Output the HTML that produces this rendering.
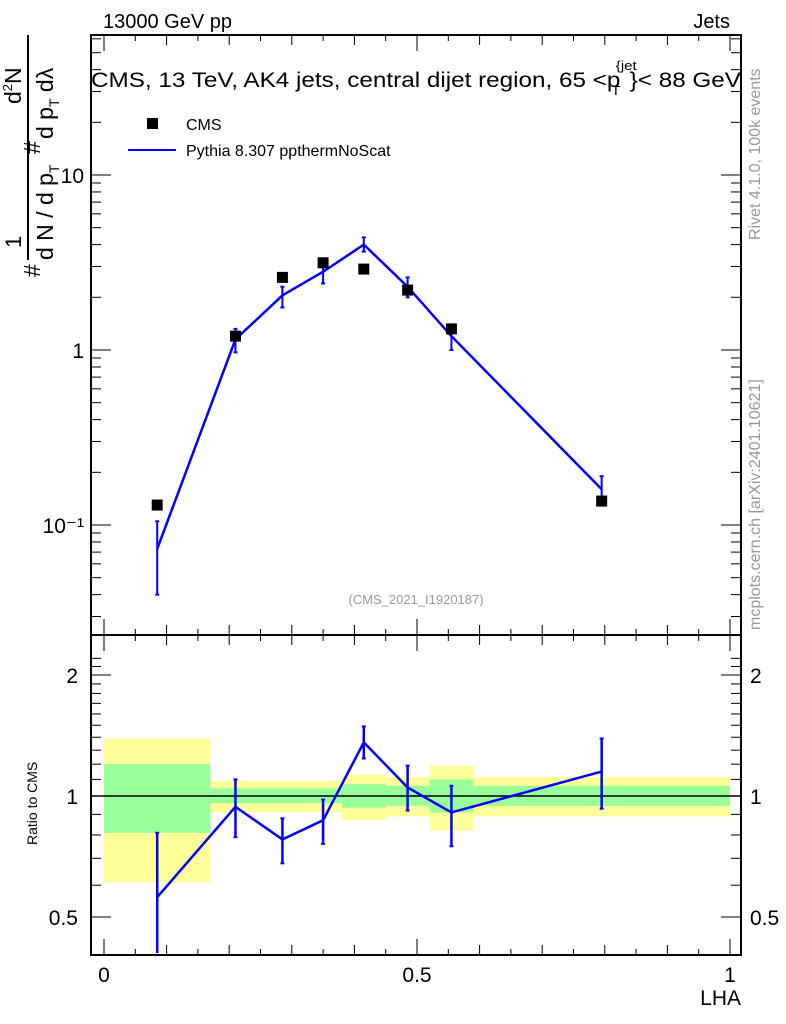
<!DOCTYPE html>
<html><head><meta charset="utf-8"><style>
html,body{margin:0;padding:0;background:#fff;}
svg{display:block;font-family:"Liberation Sans",sans-serif;}
</style></head><body>
<svg id="chart" width="786" height="1024" viewBox="0 0 786 1024">
<g id="bands"></g>
<g id="ticks" stroke="#000" stroke-width="1"></g>
<g id="marks"></g>
<rect x="91" y="35" width="650" height="600" fill="none" stroke="#000" stroke-width="2"/>
<rect x="91" y="635" width="650" height="320" fill="none" stroke="#000" stroke-width="2"/>
<text x="103" y="28" font-size="20">13000 GeV pp</text>
<text x="730" y="28" font-size="20" text-anchor="end">Jets</text>
<text x="91" y="87" font-size="21" textLength="650" lengthAdjust="spacingAndGlyphs">CMS, 13 TeV, AK4 jets, central dijet region, 65 &lt;p<tspan font-size="13" dy="-17" dx="-4">{jet</tspan><tspan font-size="13" dy="25" dx="-22">T</tspan><tspan dy="-8" dx="8">}&lt; 88 GeV</tspan></text>
<rect x="147" y="118" width="11" height="11" fill="#000"/>
<text x="186" y="130" font-size="16">CMS</text>
<line x1="128" y1="150" x2="176" y2="150" stroke="#0000ff" stroke-width="2"/>
<text x="186" y="156" font-size="16">Pythia 8.307 ppthermNoScat</text>
<text x="416" y="604" font-size="13" fill="#999" text-anchor="middle">(CMS_2021_I1920187)</text>
<g transform="translate(28,272) rotate(-90)" font-size="23">
<text x="-5" y="12">#</text>
<line x1="12" y1="0" x2="237" y2="0" stroke="#000" stroke-width="2"/>
<text x="24" y="-7" font-size="22">1</text>
<text x="12" y="25">d N / d p<tspan font-size="14" dy="6">T</tspan></text>
<text x="118" y="12">#</text>
<text x="133" y="25">d p<tspan font-size="14" dy="6">T</tspan><tspan dy="-6"> d&#955;</tspan></text>
<text x="168" y="-7">d<tspan font-size="13" dy="-9">2</tspan><tspan dy="9">N</tspan></text>
</g>
<text x="0" y="0" transform="translate(760,240) rotate(-90)" font-size="16" fill="#999">Rivet 4.1.0,  100k events</text>
<text x="0" y="0" transform="translate(760,630) rotate(-90)" font-size="16" fill="#999">mcplots.cern.ch [arXiv:2401.10621]</text>
<text x="0" y="0" transform="translate(37,845) rotate(-90)" font-size="14">Ratio to CMS</text>
<text x="741" y="1005" font-size="21" text-anchor="end">LHA</text>
</svg>
<script>
const binEdges=[0,0.17,0.25,0.32,0.38,0.45,0.52,0.59,1.0];
const cmsVals=[0.13,1.2,2.6,3.15,2.9,2.2,1.32,0.137];
const mcVals=[0.073,1.15,2.05,2.8,4.0,2.3,1.2,0.16];
const mcLo=[0.04,0.97,1.75,2.4,3.65,2.0,1.0,0.135];
const mcHi=[0.105,1.32,2.3,3.2,4.4,2.6,1.4,0.19];
const ratioVals=[0.56,0.94,0.78,0.87,1.36,1.05,0.91,1.15];
const ratioLo=[0.3,0.79,0.68,0.76,1.24,0.92,0.75,0.93];
const ratioHi=[0.81,1.10,0.88,0.98,1.49,1.19,1.06,1.39];
const statHi=[1.2,1.045,1.045,1.045,1.07,1.06,1.1,1.06];
const statLo=[0.81,0.96,0.96,0.96,0.935,0.945,0.91,0.945];
const totHi=[1.39,1.09,1.09,1.09,1.13,1.115,1.19,1.115];
const totLo=[0.61,0.91,0.91,0.91,0.87,0.89,0.82,0.89];
const xTickLabels=["0","0.5","1"];
const xTickVals=[0,0.5,1];
const mainTickVals=[0.1,1,10];
const mainTickLabels=["10\u207B\u00B9","1","10"];
const ratioTickVals=[0.5,1,2];
const ratioTickLabels=["0.5","1","2"];

const NS="http://www.w3.org/2000/svg";
const X=v=>104+v*626;
const Y=v=>350-175*Math.log10(v);
const R=v=>796-402*Math.log10(v);
function mk(tag,attrs,parent){const e=document.createElementNS(NS,tag);for(const k in attrs)e.setAttribute(k,attrs[k]);parent.appendChild(e);return e;}
const bands=document.getElementById('bands'),ticks=document.getElementById('ticks'),marks=document.getElementById('marks'),svg=document.getElementById('chart');
const clip=v=>Math.max(637,Math.min(953,v));
for(let i=0;i<cmsVals.length;i++){
 const x0=X(binEdges[i]),x1=X(binEdges[i+1]);
 let r=mk('rect',{x:x0,y:clip(R(totHi[i])),width:x1-x0,height:clip(R(totLo[i]))-clip(R(totHi[i])),fill:'#ffff99'},bands);
 
 
 r=mk('rect',{x:x0,y:R(statHi[i]),width:x1-x0,height:R(statLo[i])-R(statHi[i]),fill:'#99ff99'},bands);
 
 
}
let l=mk('line',{x1:91,x2:741,y1:R(1),y2:R(1),stroke:'#000','stroke-width':1.5},bands);


for(let v=0;v<=1.0001;v+=0.05){
 const major=Math.abs(v*10-Math.round(v*10))<1e-6;const len=major?(Math.abs(v*2-Math.round(v*2))<1e-6?16:10):6;
 [[35,1],[635,-1],[635,1],[955,-1]].forEach(([y,d])=>mk('line',{x1:X(v),x2:X(v),y1:y,y2:y+d*len},ticks));
}
xTickVals.forEach((v,i)=>{const t=mk('text',{x:X(v),y:982,'font-size':21,'text-anchor':'middle'},svg);t.textContent=xTickLabels[i];

});
for(let d=-2;d<=1;d++)for(let m=1;m<10;m++){const v=m*Math.pow(10,d),y=Y(v);if(y<35||y>635)continue;const len=m==1?20:10;
 mk('line',{x1:91,x2:91+len,y1:y,y2:y},ticks);mk('line',{x1:741,x2:741-len,y1:y,y2:y},ticks);}
mainTickVals.forEach((v,i)=>{const t=mk('text',{x:84,y:Y(v)+8,'font-size':21,'text-anchor':'end'},svg);t.textContent=mainTickLabels[i];

});
[0.5,0.6,0.7,0.8,0.9,1,2,1.1,1.2,1.3,1.4,1.5,1.6,1.7,1.8,1.9,2.1,2.2].forEach(v=>{const y=R(v);if(y<637||y>953)return;const len=(v==0.5||v==1||v==2)?20:10;
 mk('line',{x1:91,x2:91+len,y1:y,y2:y},ticks);mk('line',{x1:741,x2:741-len,y1:y,y2:y},ticks);});
ratioTickVals.forEach((v,i)=>{let t=mk('text',{x:78,y:R(v)+8,'font-size':21,'text-anchor':'end'},svg);t.textContent=ratioTickLabels[i];


t=mk('text',{x:750,y:R(v)+8,'font-size':21},svg);t.textContent=ratioTickLabels[i];

});
const ctr=i=>(binEdges[i]+binEdges[i+1])/2;
let p=mk('polyline',{points:mcVals.map((v,i)=>X(ctr(i))+','+Y(v)).join(' '),fill:'none',stroke:'#0000ff','stroke-width':2.5},marks);


p=mk('polyline',{points:ratioVals.map((v,i)=>X(ctr(i))+','+R(v)).join(' '),fill:'none',stroke:'#0000ff','stroke-width':2.5},marks);


for(let i=0;i<cmsVals.length;i++){
 const x=X(ctr(i));
 let e=mk('line',{x1:x,x2:x,y1:Y(mcLo[i]),y2:Y(mcHi[i]),stroke:'#0000ff','stroke-width':2},marks);
 
 
 [mcLo[i],mcHi[i]].forEach(v=>mk('line',{x1:x-2,x2:x+2,y1:Y(v),y2:Y(v),stroke:'#0000ff','stroke-width':2},marks));
 e=mk('line',{x1:x,x2:x,y1:clip(R(ratioLo[i])),y2:R(ratioHi[i]),stroke:'#0000ff','stroke-width':2.5},marks);
 
 
 [ratioLo[i],ratioHi[i]].forEach(v=>{if(R(v)<953)mk('line',{x1:x-2,x2:x+2,y1:R(v),y2:R(v),stroke:'#0000ff','stroke-width':2},marks);});
 const m=mk('rect',{x:x-5.5,y:Y(cmsVals[i])-5.5,width:11,height:11,fill:'#000'},marks);
 
 
}
</script>
</body></html>
